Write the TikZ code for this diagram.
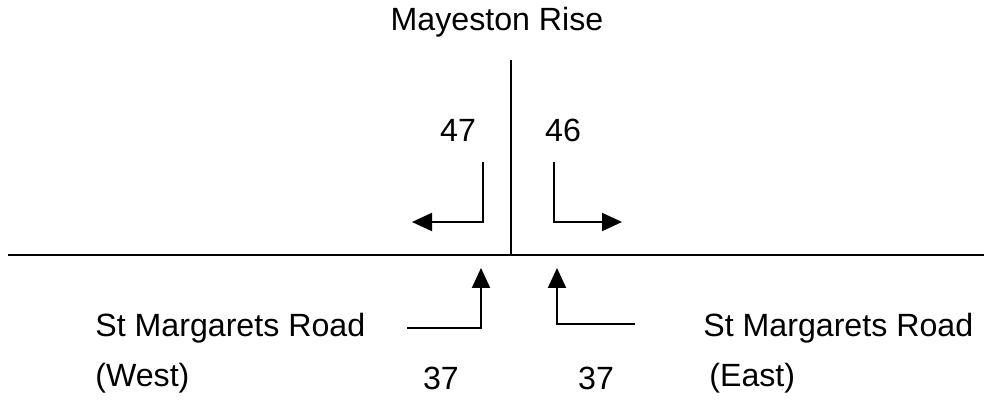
\documentclass[tikz,border=0pt]{standalone}
\usepackage{fontspec}
\setmainfont{Liberation Sans}
\usepackage{tikz}
\usetikzlibrary{positioning}
\usetikzlibrary{calc}
\usetikzlibrary{arrows.meta}

\begin{document}
\begin{tikzpicture}[x=0.02cm,y=-0.02cm,
	road/.style={line width=1.2pt},
	turn/.style={line width=1.2pt, -{Triangle[length=0.4cm,width=0.36cm]}},
	lbl/.style={font=\fontsize{18.3}{22}\selectfont, inner sep=0pt}]
	\useasboundingbox (0,0) rectangle (984,401);

	% roads
	\coordinate (w) at (8,255);
	\coordinate (e) at (984,255);
	\coordinate (n) at (511,60);
	\coordinate (j) at (511,255);
	\draw[road] (w) -- (e);
	\draw[road] (n) -- (j);

	% turning movements
	\coordinate (a1) at (483,162);
	\coordinate (a2) at (483,222);
	\coordinate (a3) at (412,222);
	\draw[turn] (a1) -- (a2) -- (a3);

	\coordinate (b1) at (554,162);
	\coordinate (b2) at (554,222);
	\coordinate (b3) at (622,222);
	\draw[turn] (b1) -- (b2) -- (b3);

	\coordinate (c1) at (407,328);
	\coordinate (c2) at (481,328);
	\coordinate (c3) at (481,268);
	\draw[turn] (c1) -- (c2) -- (c3);

	\coordinate (d1) at (635,324);
	\coordinate (d2) at (557,324);
	\coordinate (d3) at (557,268);
	\draw[turn] (d1) -- (d2) -- (d3);

	% labels
	\node[lbl] (rise) at (497,22) {Mayeston Rise};
	\node[lbl] (n47) at (458,130) {47};
	\node[lbl] (n46) at (563,130) {46};
	\node[lbl, anchor=west] (smw) at (95,328) {St Margarets Road};
	\node[lbl, anchor=west] (west) at (95,378) {(West)};
	\node[lbl] (m37w) at (441,378) {37};
	\node[lbl] (m37e) at (596,378) {37};
	\node[lbl, anchor=west] (sme) at (703,328) {St Margarets Road};
	\node[lbl, anchor=west] (east) at (709,378) {(East)};
\end{tikzpicture}
\end{document}
